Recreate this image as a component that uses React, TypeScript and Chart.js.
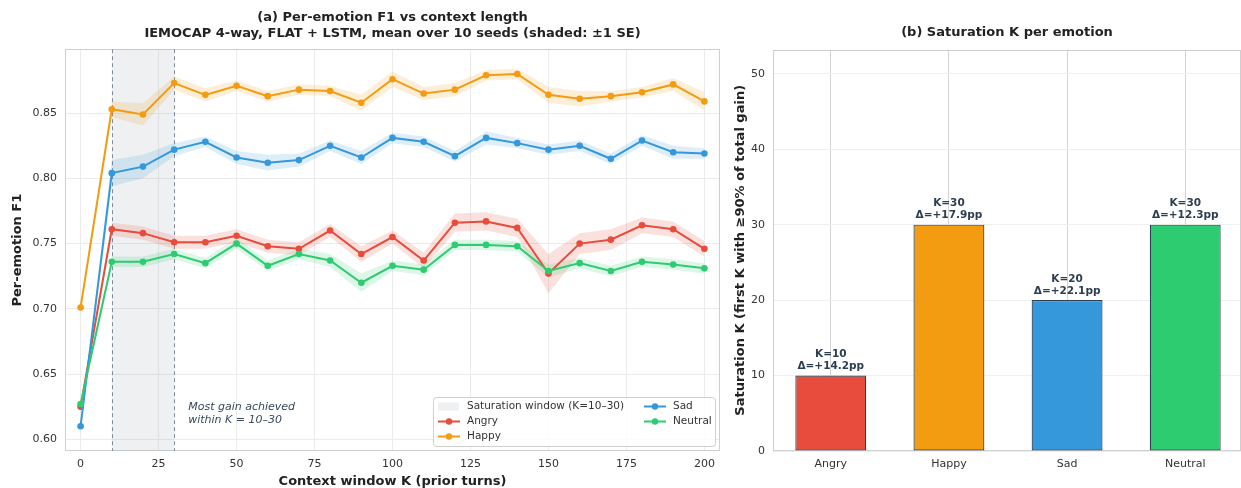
import { useEffect, useRef } from 'react';
import { Chart, registerables } from 'chart.js';

Chart.register(...registerables);

const FONT = '"DejaVu Sans", "Liberation Sans", sans-serif';

// ---------- Panel (a) data ----------
const K_VALUES = [0, 10, 20, 30, 40, 50, 60, 70, 80, 90, 100, 110, 120, 130, 140, 150, 160, 170, 180, 190, 200];

const ANGRY_F1 = [0.625, 0.761, 0.758, 0.751, 0.751, 0.756, 0.748, 0.746, 0.760, 0.742, 0.755, 0.737, 0.766, 0.767, 0.762, 0.727, 0.750, 0.753, 0.764, 0.761, 0.746];
const ANGRY_SE = [0.002, 0.005, 0.005, 0.005, 0.005, 0.005, 0.005, 0.005, 0.005, 0.006, 0.005, 0.006, 0.007, 0.007, 0.007, 0.015, 0.008, 0.008, 0.006, 0.006, 0.006];

const HAPPY_F1 = [0.701, 0.853, 0.849, 0.873, 0.864, 0.871, 0.863, 0.868, 0.867, 0.858, 0.876, 0.865, 0.868, 0.879, 0.880, 0.864, 0.861, 0.863, 0.866, 0.872, 0.859];
const HAPPY_SE = [0.002, 0.006, 0.0085, 0.005, 0.005, 0.004, 0.004, 0.004, 0.004, 0.006, 0.006, 0.005, 0.005, 0.004, 0.004, 0.006, 0.006, 0.004, 0.004, 0.005, 0.007];

const SAD_F1 = [0.610, 0.804, 0.809, 0.822, 0.828, 0.816, 0.812, 0.814, 0.825, 0.816, 0.831, 0.828, 0.817, 0.831, 0.827, 0.822, 0.825, 0.815, 0.829, 0.820, 0.819];
const SAD_SE = [0.002, 0.010, 0.009, 0.005, 0.004, 0.005, 0.006, 0.005, 0.004, 0.005, 0.004, 0.004, 0.004, 0.005, 0.004, 0.004, 0.004, 0.004, 0.004, 0.005, 0.004];

const NEUTRAL_F1 = [0.627, 0.736, 0.736, 0.742, 0.735, 0.750, 0.733, 0.742, 0.737, 0.720, 0.733, 0.730, 0.749, 0.749, 0.748, 0.729, 0.735, 0.729, 0.736, 0.734, 0.731];
const NEUTRAL_SE = [0.002, 0.004, 0.004, 0.004, 0.004, 0.004, 0.004, 0.004, 0.005, 0.007, 0.004, 0.004, 0.004, 0.004, 0.004, 0.005, 0.004, 0.004, 0.004, 0.004, 0.004];

const X_TICKS = [0, 25, 50, 75, 100, 125, 150, 175, 200];
const Y_TICKS = [0.6, 0.65, 0.7, 0.75, 0.8, 0.85];
const SAT_WINDOW = [10, 30];

// ---------- Panel (b) data ----------
const EMOTIONS = ['Angry', 'Happy', 'Sad', 'Neutral'];
const SAT_K = [10, 30, 20, 30];
const SAT_GAIN = [14.2, 17.9, 22.1, 12.3];
const SAT_Y_TICKS = [0, 10, 20, 30, 40, 50];

const COLORS = ['#e74c3c', '#f39c12', '#3498db', '#2ecc71'];

function rgba(hex: string, a: number) {
  const n = parseInt(hex.slice(1), 16);
  return `rgba(${(n >> 16) & 255},${(n >> 8) & 255},${n & 255},${a})`;
}

const framePlugin = {
  id: 'frame',
  beforeDatasetsDraw(chart: any) {
    const { ctx, chartArea: a } = chart;
    ctx.save();
    ctx.strokeStyle = '#cfcfcf';
    ctx.lineWidth = 1;
    ctx.strokeRect(Math.round(a.left) + 0.5, Math.round(a.top) + 0.5, Math.round(a.width) - 1, Math.round(a.height) - 1);
    ctx.restore();
  },
};

const windowPlugin = {
  id: 'satWindow',
  beforeDatasetsDraw(chart: any) {
    const { ctx, chartArea: a, scales } = chart;
    const x0 = scales.x.getPixelForValue(SAT_WINDOW[0]);
    const x1 = scales.x.getPixelForValue(SAT_WINDOW[1]);
    ctx.save();
    ctx.fillStyle = 'rgba(140,152,165,0.15)';
    ctx.fillRect(x0, a.top, x1 - x0, a.height);
    ctx.strokeStyle = '#7f8c9a';
    ctx.lineWidth = 1;
    ctx.setLineDash([4, 3]);
    [x0, x1].forEach((x) => {
      ctx.beginPath();
      ctx.moveTo(Math.round(x) + 0.5, a.top);
      ctx.lineTo(Math.round(x) + 0.5, a.bottom);
      ctx.stroke();
    });
    ctx.restore();
  },
  afterDatasetsDraw(chart: any) {
    const { ctx, scales } = chart;
    const x = scales.x.getPixelForValue(34.5);
    const y = scales.y.getPixelForValue(0.625);
    ctx.save();
    ctx.fillStyle = '#34495e';
    ctx.font = `italic 11px ${FONT}`;
    ctx.textAlign = 'left';
    ctx.textBaseline = 'middle';
    ctx.fillText('Most gain achieved', x, y);
    ctx.fillText('within K = 10\u201330', x, y + 13);
    ctx.restore();
  },
};

const legendPlugin = {
  id: 'customLegend',
  afterDraw(chart: any) {
    const { ctx, chartArea: a } = chart;
    const w = 282;
    const h = 49;
    const x0 = a.right - 5 - w;
    const y0 = a.bottom - 5 - h;
    ctx.save();
    ctx.fillStyle = 'rgba(255,255,255,0.85)';
    ctx.strokeStyle = '#d0d0d0';
    ctx.lineWidth = 1;
    ctx.beginPath();
    (ctx as any).roundRect(x0 + 0.5, y0 + 0.5, w, h, 3);
    ctx.fill();
    ctx.stroke();
    ctx.font = `10.5px ${FONT}`;
    ctx.fillStyle = '#333333';
    ctx.textBaseline = 'middle';
    ctx.textAlign = 'left';
    const rows = [9.5, 24.5, 39.5];
    ctx.fillStyle = 'rgba(140,152,165,0.15)';
    ctx.fillRect(x0 + 5, y0 + rows[0] - 4, 21, 8);
    ctx.fillStyle = '#333333';
    ctx.fillText('Saturation window (K=10\u201330)', x0 + 34, y0 + rows[0]);
    const items = [
      { label: EMOTIONS[0], color: COLORS[0], hx: 5, tx: 34, row: 1 },
      { label: EMOTIONS[1], color: COLORS[1], hx: 5, tx: 34, row: 2 },
      { label: EMOTIONS[2], color: COLORS[2], hx: 211, tx: 240, row: 0 },
      { label: EMOTIONS[3], color: COLORS[3], hx: 211, tx: 240, row: 1 },
    ];
    items.forEach((it) => {
      const yy = y0 + rows[it.row];
      ctx.strokeStyle = it.color;
      ctx.lineWidth = 2;
      ctx.beginPath();
      ctx.moveTo(x0 + it.hx, yy);
      ctx.lineTo(x0 + it.hx + 22, yy);
      ctx.stroke();
      ctx.fillStyle = it.color;
      ctx.beginPath();
      ctx.arc(x0 + it.hx + 11, yy, 3.2, 0, Math.PI * 2);
      ctx.fill();
      ctx.fillStyle = '#333333';
      ctx.fillText(it.label, x0 + it.tx, yy);
    });
    ctx.restore();
  },
};

const barLabelPlugin = {
  id: 'barLabels',
  afterDatasetsDraw(chart: any) {
    const { ctx } = chart;
    const meta = chart.getDatasetMeta(0);
    ctx.save();
    ctx.fillStyle = '#2c3e50';
    ctx.font = `bold 10.5px ${FONT}`;
    ctx.textAlign = 'center';
    ctx.textBaseline = 'middle';
    meta.data.forEach((el: any, i: number) => {
      ctx.fillText(`K=${SAT_K[i]}`, el.x, el.y - 21);
      ctx.fillText(`\u0394=+${SAT_GAIN[i].toFixed(1)}pp`, el.x, el.y - 9);
    });
    ctx.restore();
  },
};

const TICK_FONT = { family: FONT, size: 11 };

function LeftChart() {
  const ref = useRef<HTMLCanvasElement>(null);
  useEffect(() => {
    const series = [
      { label: EMOTIONS[0], f1: ANGRY_F1, se: ANGRY_SE, color: COLORS[0], order: 3 },
      { label: EMOTIONS[1], f1: HAPPY_F1, se: HAPPY_SE, color: COLORS[1], order: 2 },
      { label: EMOTIONS[2], f1: SAD_F1, se: SAD_SE, color: COLORS[2], order: 1 },
      { label: EMOTIONS[3], f1: NEUTRAL_F1, se: NEUTRAL_SE, color: COLORS[3], order: 0 },
    ];
    const datasets: any[] = [];
    series.forEach((s, i) => {
      datasets.push({
        label: s.label + ' +SE',
        data: K_VALUES.map((k, j) => ({ x: k, y: s.f1[j] + s.se[j] })),
        borderWidth: 0,
        borderColor: 'rgba(0,0,0,0)',
        pointRadius: 0,
        backgroundColor: rgba(s.color, 0.17),
        fill: '+1',
        order: 20 - i,
      });
      datasets.push({
        label: s.label + ' -SE',
        data: K_VALUES.map((k, j) => ({ x: k, y: s.f1[j] - s.se[j] })),
        borderWidth: 0,
        borderColor: 'rgba(0,0,0,0)',
        pointRadius: 0,
        fill: false,
        order: 20 - i,
      });
      datasets.push({
        label: s.label,
        data: K_VALUES.map((k, j) => ({ x: k, y: s.f1[j] })),
        borderColor: s.color,
        backgroundColor: s.color,
        borderWidth: 2,
        pointRadius: 3.3,
        pointBorderWidth: 0,
        fill: false,
        tension: 0,
        order: s.order,
      });
    });
    const chart = new Chart(ref.current as HTMLCanvasElement, {
      type: 'line',
      data: { datasets },
      plugins: [framePlugin, windowPlugin, legendPlugin],
      options: {
        responsive: false,
        animation: false,
        layout: { padding: { left: 0, right: 10, top: 0, bottom: 0 } },
        plugins: {
          legend: { display: false },
          tooltip: { enabled: false },
          title: {
            display: true,
            fullSize: false,
            text: [
              '(a) Per-emotion F1 vs context length',
              'IEMOCAP 4-way, FLAT + LSTM, mean over 10 seeds (shaded: \u00b11 SE)',
            ],
            font: { family: FONT, size: 13, weight: 'bold' },
            color: '#222222',
            padding: { top: 10, bottom: 8 },
          },
        },
        scales: {
          x: {
            type: 'linear',
            min: -5,
            max: 205,
            grid: { color: '#ebebeb', drawTicks: false },
            border: { display: false },
            ticks: { padding: 7, font: TICK_FONT, color: '#333333', callback: (v: any) => String(v) },
            afterBuildTicks: (s: any) => {
              s.ticks = X_TICKS.map((v) => ({ value: v }));
            },
            afterFit: (s: any) => {
              s.height = 37;
            },
            title: {
              display: true,
              text: 'Context window K (prior turns)',
              font: { family: FONT, size: 13, weight: 'bold', lineHeight: 1 },
              color: '#222222',
              padding: { top: 0, bottom: 0 },
            },
          },
          y: {
            type: 'linear',
            min: 0.591,
            max: 0.899,
            grid: { color: '#ebebeb', drawTicks: false },
            border: { display: false },
            ticks: { padding: 8, font: TICK_FONT, color: '#333333', callback: (v: any) => Number(v).toFixed(2) },
            afterBuildTicks: (s: any) => {
              s.ticks = Y_TICKS.map((v) => ({ value: v }));
            },
            afterFit: (s: any) => {
              s.width = 65;
            },
            title: {
              display: true,
              text: 'Per-emotion F1',
              font: { family: FONT, size: 13, weight: 'bold', lineHeight: 1 },
              color: '#222222',
              padding: { top: 11, bottom: 0 },
            },
          },
        },
      } as any,
    });
    return () => chart.destroy();
  }, []);
  return <canvas ref={ref} width={730} height={488} style={{ display: 'block' }} />;
}

function RightChart() {
  const ref = useRef<HTMLCanvasElement>(null);
  useEffect(() => {
    const chart = new Chart(ref.current as HTMLCanvasElement, {
      type: 'bar',
      data: {
        datasets: [
          {
            data: SAT_K.map((k, i) => ({ x: i, y: k })),
            backgroundColor: COLORS,
            borderColor: '#2c3e50',
            borderWidth: 1.2,
            borderSkipped: false,
            barPercentage: 0.6,
            categoryPercentage: 1,
          },
        ],
      },
      plugins: [framePlugin, barLabelPlugin],
      options: {
        responsive: false,
        animation: false,
        layout: { padding: { left: 0, right: -2, top: 0, bottom: 0 } },
        plugins: {
          legend: { display: false },
          tooltip: { enabled: false },
          title: {
            display: true,
            fullSize: false,
            text: '(b) Saturation K per emotion',
            font: { family: FONT, size: 13, weight: 'bold' },
            color: '#222222',
            padding: { top: 25, bottom: 9 },
          },
        },
        scales: {
          x: {
            type: 'linear',
            min: -0.489,
            max: 3.472,
            offset: false,
            grid: { color: '#d4d4d4', drawTicks: false, offset: false },
            border: { display: false },
            ticks: { padding: 7, font: TICK_FONT, color: '#333333', callback: (v: any) => EMOTIONS[Number(v)] ?? '' },
            afterBuildTicks: (s: any) => {
              s.ticks = EMOTIONS.map((_, i) => ({ value: i }));
            },
            afterFit: (s: any) => {
              s.height = 37;
            },
          },
          y: {
            type: 'linear',
            min: 0,
            max: 53.2,
            grid: { color: '#efefef', drawTicks: false },
            border: { display: false },
            ticks: { padding: 8, font: TICK_FONT, color: '#333333', callback: (v: any) => String(v) },
            afterBuildTicks: (s: any) => {
              s.ticks = SAT_Y_TICKS.map((v) => ({ value: v }));
            },
            afterFit: (s: any) => {
              s.width = 43;
            },
            title: {
              display: true,
              text: 'Saturation K (first K with \u226590% of total gain)',
              font: { family: FONT, size: 13, weight: 'bold', lineHeight: 1 },
              color: '#222222',
              padding: { top: 4, bottom: 0 },
            },
          },
        },
      } as any,
    });
    return () => chart.destroy();
  }, []);
  return <canvas ref={ref} width={511} height={488} style={{ display: 'block' }} />;
}

export default function App() {
  return (
    <div style={{ position: 'absolute', left: 0, top: 0, width: 1241, height: 488, background: '#ffffff', overflow: 'hidden' }}>
      <div style={{ position: 'absolute', left: 0, top: 0, width: 730, height: 488 }}>
        <LeftChart />
      </div>
      <div style={{ position: 'absolute', left: 730, top: 0, width: 511, height: 488 }}>
        <RightChart />
      </div>
    </div>
  );
}
